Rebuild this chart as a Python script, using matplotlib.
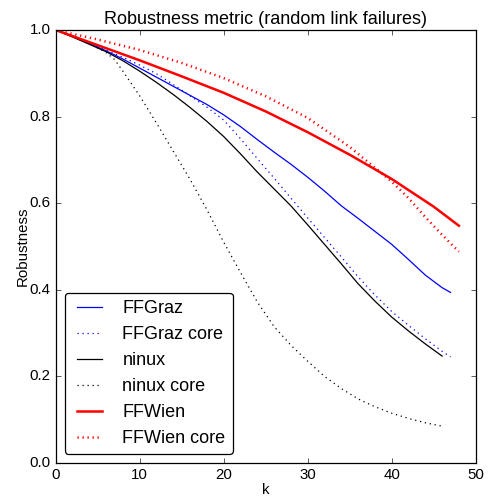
import matplotlib
matplotlib.use('Agg')
import matplotlib.pyplot as plt

plt.style.use('classic')
plt.rcParams['font.family'] = ['Liberation Sans', 'DejaVu Sans']

# robustness vs. number of removed links k
k_graz = [0, 2, 4, 6, 8, 10, 12, 14, 16, 18, 20, 22, 24, 26, 28, 30, 32, 34, 36, 38, 40, 42, 44, 46, 47]
r_graz = [1.0, 0.985, 0.969, 0.952, 0.933, 0.912, 0.891, 0.87, 0.849, 0.828, 0.804, 0.777, 0.747,
          0.718, 0.69, 0.66, 0.628, 0.594, 0.565, 0.535, 0.505, 0.47, 0.434, 0.405, 0.394]

k_graz_core = [0, 2, 4, 6, 8, 10, 12, 14, 16, 18, 20, 22, 24, 26, 28, 30, 32, 34, 36, 38, 40, 42, 44, 46, 47]
r_graz_core = [1.0, 0.985, 0.969, 0.953, 0.937, 0.919, 0.899, 0.874, 0.848, 0.822, 0.792, 0.749, 0.703,
               0.658, 0.612, 0.566, 0.521, 0.476, 0.43, 0.388, 0.35, 0.318, 0.287, 0.258, 0.245]

k_ninux = [0, 2, 4, 6, 8, 10, 12, 14, 16, 18, 20, 22, 24, 26, 28, 30, 32, 34, 36, 38, 40, 42, 44, 46]
r_ninux = [1.0, 0.984, 0.967, 0.95, 0.929, 0.905, 0.879, 0.851, 0.821, 0.789, 0.754, 0.714, 0.672,
           0.633, 0.594, 0.55, 0.505, 0.46, 0.414, 0.374, 0.337, 0.305, 0.275, 0.247]

k_ninux_core = [0, 2, 4, 6, 7, 8, 10, 12, 14, 16, 18, 20, 22, 24, 26, 28, 30, 32, 34, 36, 38, 40, 42, 44, 46]
r_ninux_core = [1.0, 0.986, 0.969, 0.948, 0.932, 0.905, 0.848, 0.785, 0.72, 0.655, 0.585, 0.51, 0.44,
                0.372, 0.315, 0.272, 0.235, 0.2, 0.172, 0.148, 0.13, 0.115, 0.103, 0.093, 0.085]

k_wien = [0, 5, 10, 15, 20, 25, 30, 35, 40, 45, 48]
r_wien = [1.0, 0.965, 0.93, 0.893, 0.855, 0.812, 0.764, 0.712, 0.656, 0.592, 0.548]

k_wien_core = [0, 5, 10, 15, 20, 25, 30, 35, 40, 42, 44, 46, 48]
r_wien_core = [1.0, 0.978, 0.954, 0.924, 0.889, 0.847, 0.797, 0.73, 0.65, 0.612, 0.568, 0.527, 0.488]

fig = plt.figure(figsize=(489 / 90.0, 497 / 90.0), dpi=90)
ax = fig.add_axes([0.1139, 0.0684, 0.8589, 0.8712])

ax.plot(k_graz, r_graz, 'b-', label='FFGraz')
ax.plot(k_graz_core, r_graz_core, 'b:', label='FFGraz core')
ax.plot(k_ninux, r_ninux, 'k-', label='ninux')
ax.plot(k_ninux_core, r_ninux_core, 'k:', label='ninux core')
ax.plot(k_wien, r_wien, 'r-', lw=2, label='FFWien')
ax.plot(k_wien_core, r_wien_core, 'r:', lw=2, label='FFWien core')

ax.set_xlim(0, 50)
ax.set_ylim(0, 1.0)
ax.set_xlabel('k', labelpad=1)
ax.set_ylabel('Robustness', labelpad=0)
ax.set_title('Robustness metric (random link failures)')
ax.legend(loc='lower left', fancybox=True)

fig.savefig('out.png', dpi=90)
